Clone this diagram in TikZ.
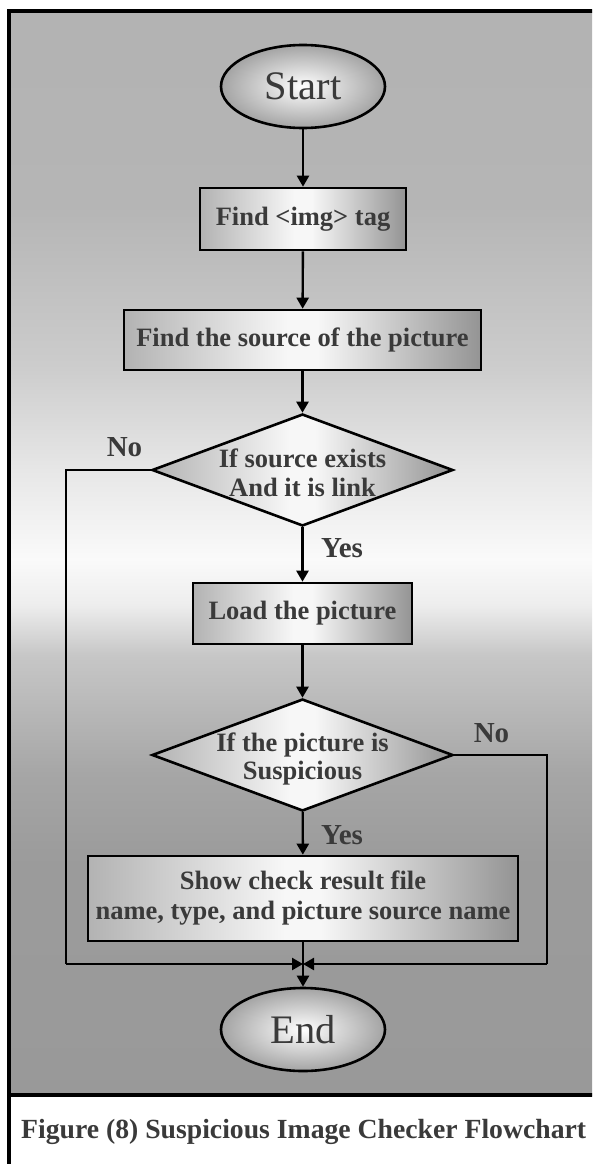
\documentclass[tikz,border=0pt]{standalone}
\usepackage{fontspec}
\setmainfont{Liberation Serif}
\usetikzlibrary{shapes.geometric,arrows.meta}

\definecolor{ink}{HTML}{3A3A3A}

% panel background: grey at the top, bright band in the middle, darker grey at the bottom
\pgfdeclareverticalshading{panelshade}{100bp}{%
  rgb(0bp)=(.60,.60,.60); rgb(25bp)=(.60,.60,.60);
  rgb(36bp)=(.61,.61,.61); rgb(39.8bp)=(.65,.65,.65);
  rgb(45.3bp)=(.78,.78,.78); rgb(47.6bp)=(.93,.93,.93);
  rgb(49.7bp)=(.98,.98,.98); rgb(53.6bp)=(.91,.91,.91);
  rgb(58.7bp)=(.80,.80,.80); rgb(66bp)=(.71,.71,.71);
  rgb(75bp)=(.70,.70,.70); rgb(100bp)=(.70,.70,.70)}

% step and decision fill: grey edges, white in the middle
\pgfdeclarehorizontalshading{boxshade}{100bp}{%
  rgb(0bp)=(.70,.70,.70); rgb(25bp)=(.70,.70,.70);
  rgb(48bp)=(.97,.97,.97); rgb(52bp)=(.97,.97,.97);
  rgb(75bp)=(.58,.58,.58); rgb(100bp)=(.58,.58,.58)}

\tikzset{
  stepbox/.style={draw=black, line width=2.6pt, shading=boxshade, inner sep=0pt,
    font=\fontsize{26.5pt}{30pt}\selectfont\bfseries, text=ink, align=center},
  terminal/.style={ellipse, draw=black, line width=2.6pt, inner color=white,
    outer color=black!36, minimum width=164pt, minimum height=83pt, inner sep=0pt,
    font=\fontsize{40.5pt}{44pt}\selectfont, text=ink},
  decision/.style={diamond, draw=black, line width=2.6pt, shading=boxshade,
    minimum width=301pt, minimum height=112pt, inner sep=0pt},
  dtext/.style={font=\fontsize{26.5pt}{28.5pt}\selectfont\bfseries, text=ink,
    align=center, inner sep=0pt},
  answer/.style={font=\fontsize{29pt}{32pt}\selectfont\bfseries, text=ink, inner sep=0pt},
  flow/.style={line width=2.4pt, -{Triangle[length=11pt,width=12pt]}},
  wire/.style={line width=2.4pt},
  frameline/.style={line width=3.4pt}
}

\begin{document}
\begin{tikzpicture}[x=1pt,y=-1pt]
\useasboundingbox (0,0) rectangle (592,1164);
\clip (0,0) rectangle (592,1164);
\fill[white] (0,0) rectangle (592,1164);

% framed panel and caption strip
\shade[shading=panelshade] (9,11) rectangle (600,1095);
\draw[frameline] (9,1175) -- (9,11) -- (600,11);
\draw[frameline] (9,1095) -- (600,1095);

% flowchart nodes
\node[terminal] (start) at (303,86.5) {Start};
\node[stepbox, minimum width=206pt, minimum height=62pt] (b1) at (303,219) {Find <img> tag};
\node[stepbox, minimum width=357pt, minimum height=60pt] (b2) at (302.5,340) {Find the source of the picture};
\node[decision] (d1) at (302.5,470) {};
\node[dtext] (d1t) at (302.5,473) {If source exists\\And it is link};
\node[stepbox, minimum width=219pt, minimum height=61pt] (b3) at (302.5,613.5) {Load the picture};
\node[decision] (d2) at (302.5,755) {};
\node[dtext] (d2t) at (302.5,759) {If the picture is\\Suspicious};
\node[stepbox, minimum width=430pt, minimum height=85pt] (b4) at (303,898.5)
  {Show check result file\\name, type, and picture source name};
\node[terminal] (end) at (303,1029.5) {End};

% branch labels
\node[answer] (no1) at (124.5,447) {No};
\node[answer] (yes1) at (342,548) {Yes};
\node[answer] (no2) at (491.5,733) {No};
\node[answer] (yes2) at (342,835) {Yes};

% join points of the two "No" branches
\coordinate (merge) at (303,964);
\coordinate (lcorner) at (66,964);
\coordinate (rcorner) at (547,964);

% connectors
\draw[flow] (start) -- (b1);
\draw[flow] (b1) -- (b2);
\draw[flow] (b2) -- (d1);
\draw[flow] (d1) -- (b3);
\draw[flow] (b3) -- (d2);
\draw[flow] (d2) -- (b4);
\draw[flow] (b4) -- (end);
\draw[wire] (d1.west) -| (lcorner);
\draw[flow] (lcorner) -- (merge);
\draw[wire] (d2.east) -| (rcorner);
\draw[flow] (rcorner) -- (merge);

% caption
\node[anchor=base west, inner sep=0pt, font=\fontsize{27.7pt}{30pt}\selectfont\bfseries, text=ink]
  (caption) at (21,1138) {Figure (8) Suspicious Image Checker Flowchart};
\end{tikzpicture}
\end{document}
